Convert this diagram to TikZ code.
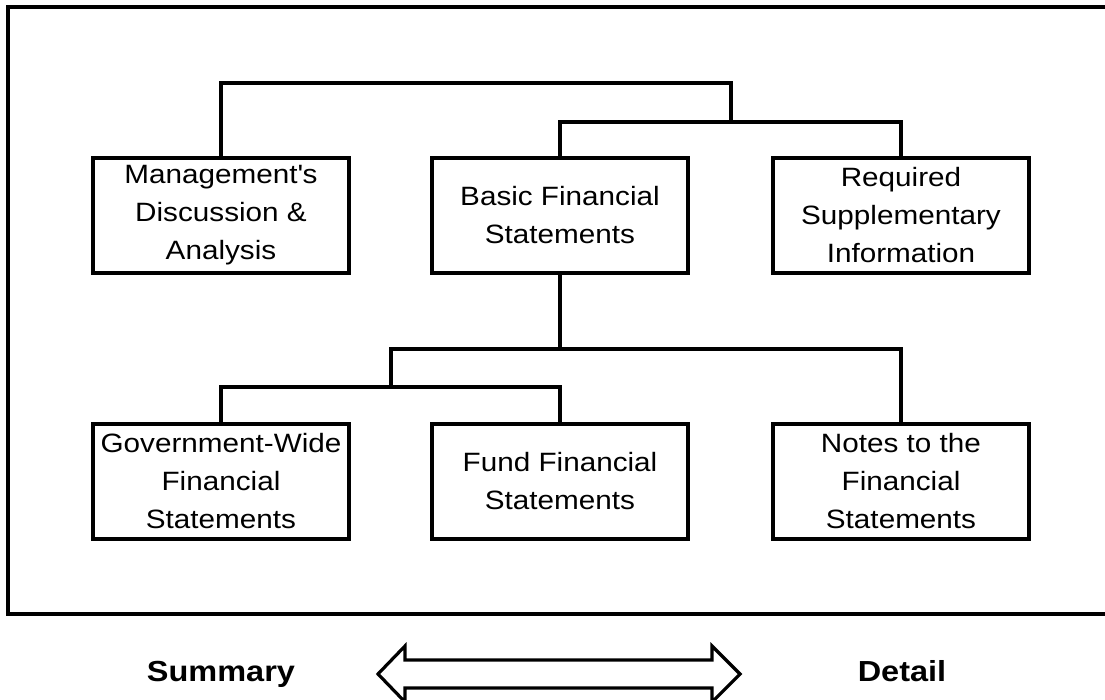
\documentclass[tikz,border=0pt]{standalone}
\usepackage{fontspec}
\setmainfont{Liberation Sans}[FakeStretch=1.12]
\begin{document}
\begin{tikzpicture}[x=1pt,y=-1pt,line width=3.2pt,
  box/.style={draw,minimum width=256pt,minimum height=115pt,inner sep=0pt,
    align=center,font=\fontsize{26.5}{38}\selectfont},
  side/.style={anchor=base,font=\fontsize{29}{34}\selectfont\bfseries}]
  \useasboundingbox (0,0) rectangle (1105,700);
  % outer frame (runs off the right edge)
  \draw (1105,7) -- (8,7) -- (8,614) -- (1105,614);
  % top row
  \node[box] (mda) at (221,215.5) {Management\textquotesingle s\\Discussion \&\\Analysis};
  \node[box] (bfs) at (560,215.5) {Basic Financial\\Statements};
  \node[box] (rsi) at (901,215.5) {Required\\Supplementary\\Information};
  % bottom row
  \node[box] (gwfs) at (221,481.5) {Government-Wide\\Financial\\Statements};
  \node[box] (ffs) at (560,481.5) {Fund Financial\\Statements};
  \node[box] (nfs) at (901,481.5) {Notes to the\\Financial\\Statements};
  % brackets
  \coordinate (tee) at (731,83);
  \coordinate (mid) at (731,122);
  \coordinate (split) at (560,349);
  \coordinate (low) at (391,387);
  \draw (mda.north) |- (tee) -- (mid);
  \draw (bfs.north) |- (mid) -| (rsi.north);
  \draw (bfs.south) -- (split);
  \draw (low) |- (split) -| (nfs.north);
  \draw (gwfs.north) |- (low) -| (ffs.north);
  % scale underneath
  \node[side] (sum) at (221,681) {Summary};
  \node[side] (det) at (902,681) {Detail};
  \draw (378,674) -- (405,646) -- (405,660) -- (712,660) -- (712,646) -- (740,674)
    -- (712,702) -- (712,688) -- (405,688) -- (405,702) -- cycle;
\end{tikzpicture}
\end{document}
